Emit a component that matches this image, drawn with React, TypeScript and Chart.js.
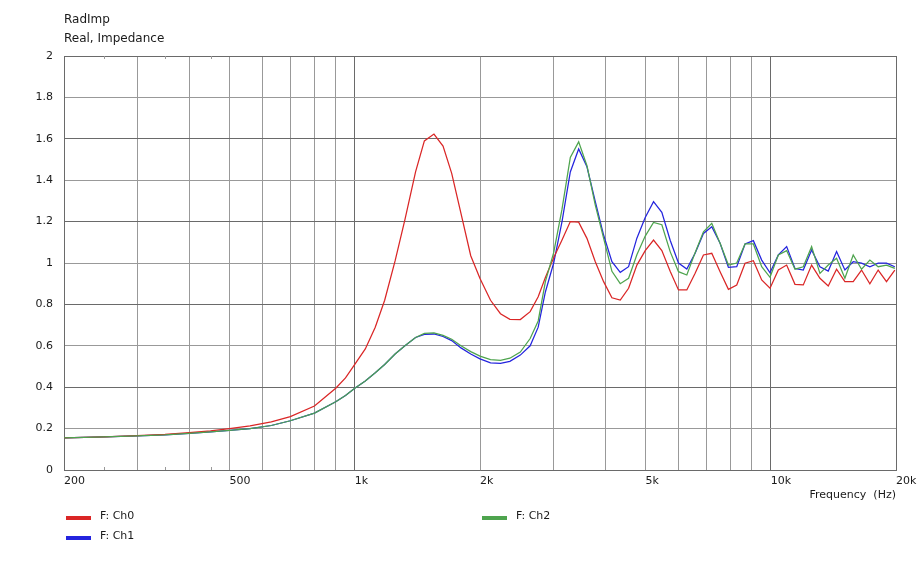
import React, { useEffect, useRef } from "react";
import { Chart, registerables } from "chart.js";

Chart.register(...registerables);

// ---------- data ----------
const FREQS = [
  200, 250, 300, 350, 400, 450, 500, 560, 630, 700,
  800, 900, 950, 1000, 1060, 1120, 1180, 1250, 1320, 1400,
  1470, 1550, 1630, 1710, 1800, 1900, 2000, 2120, 2240, 2360,
  2500, 2640, 2760,
  2872, 3007, 3149, 3297, 3453, 3615, 3786, 3964, 4151, 4347,
  4552, 4766, 4991, 5226, 5472, 5730, 6000, 6283, 6579, 6889,
  7214, 7554, 7910, 8283, 8673, 9082, 9510, 9958, 10427, 10919,
  11433, 11972, 12536, 13128, 13746, 14394, 15072, 15783, 16527, 17305,
  18121, 18975, 19869,
];

const CH0 = [
  0.155, 0.16, 0.166, 0.172, 0.18, 0.189, 0.2, 0.213, 0.232, 0.258,
  0.309, 0.395, 0.445, 0.51, 0.585, 0.69, 0.82, 1.01, 1.21, 1.44,
  1.59, 1.623, 1.565, 1.433, 1.24, 1.035, 0.925, 0.82, 0.755, 0.728,
  0.727, 0.765, 0.837,
  0.93, 1.025, 1.111, 1.2, 1.197, 1.119, 1.006, 0.91, 0.832, 0.821,
  0.878, 0.99, 1.06, 1.111, 1.06, 0.96, 0.87, 0.87, 0.95, 1.039,
  1.047, 0.958, 0.873, 0.894, 0.999, 1.011, 0.918, 0.878, 0.966, 0.99,
  0.897, 0.894, 0.99, 0.926, 0.889, 0.97, 0.91, 0.91, 0.966, 0.899,
  0.966, 0.91, 0.966,
];

const CH1 = [
  0.155, 0.16, 0.165, 0.17, 0.177, 0.184, 0.192, 0.2, 0.215, 0.238,
  0.275, 0.33, 0.36, 0.395, 0.43, 0.47, 0.51, 0.56, 0.6, 0.64,
  0.655, 0.657, 0.645, 0.625, 0.59, 0.56, 0.537, 0.518, 0.515, 0.525,
  0.555, 0.6, 0.69,
  0.86, 1.0, 1.2, 1.44, 1.551, 1.465, 1.296, 1.135, 1.006, 0.955,
  0.982, 1.12, 1.22, 1.296, 1.245, 1.11, 1.0, 0.971, 1.047, 1.143,
  1.175, 1.095, 0.979, 0.982, 1.092, 1.108, 1.014, 0.953, 1.039, 1.079,
  0.974, 0.966, 1.063, 0.982, 0.961, 1.055, 0.966, 1.006, 0.999, 0.982,
  0.999, 0.999, 0.982,
];

const CH2 = [
  0.155, 0.16, 0.165, 0.17, 0.177, 0.184, 0.192, 0.2, 0.215, 0.238,
  0.275, 0.33, 0.36, 0.395, 0.43, 0.47, 0.51, 0.56, 0.6, 0.64,
  0.66, 0.662, 0.65, 0.632, 0.6, 0.572, 0.55, 0.533, 0.53, 0.54,
  0.57, 0.635, 0.72,
  0.91, 1.05, 1.26, 1.51, 1.585, 1.47, 1.28, 1.12, 0.96, 0.9,
  0.926, 1.04, 1.13, 1.196, 1.185, 1.055, 0.958, 0.942, 1.05, 1.151,
  1.192, 1.095, 0.99, 1.0, 1.092, 1.092, 0.982, 0.931, 1.039, 1.06,
  0.97, 0.982, 1.079, 0.95, 0.99, 1.023, 0.926, 1.039, 0.97, 1.014,
  0.982, 0.99, 0.974,
];

const SERIES_NAMES = ["F: Ch0", "F: Ch1", "F: Ch2"];

const X_TICKS = [
  200, 300, 400, 500, 600, 700, 800, 900, 1000,
  2000, 3000, 4000, 5000, 6000, 7000, 8000, 9000, 10000, 20000,
];
const X_LABELS: Record<number, string> = {
  200: "200", 500: "500", 1000: "1k", 2000: "2k", 5000: "5k", 10000: "10k", 20000: "20k",
};
const X_MINOR = [250, 350, 450];
const Y_TICKS = [0, 0.2, 0.4, 0.6, 0.8, 1, 1.2, 1.4, 1.6, 1.8, 2];

// ---------- styles ----------
const RED = "rgb(218,38,38)";
const BLUE = "rgb(36,36,222)";
const GREEN = "rgb(78,164,78)";
const GRID_LIGHT = "#999999";
const GRID_DARK = "#6a6a6a";
const FONT = "'DejaVu Sans', Verdana, sans-serif";
const TEXT = "#1a1a1a";
const LINE_W = 1.25;

const minorTickPlugin = {
  id: "minorTicks",
  afterDraw(chart: any) {
    const { ctx, chartArea, scales } = chart;
    ctx.save();
    ctx.strokeStyle = GRID_LIGHT;
    ctx.lineWidth = 1;
    X_MINOR.forEach((v) => {
      const x = Math.round(scales.x.getPixelForValue(v)) + 0.5;
      ctx.beginPath();
      ctx.moveTo(x, chartArea.top);
      ctx.lineTo(x, chartArea.top + 3);
      ctx.moveTo(x, chartArea.bottom);
      ctx.lineTo(x, chartArea.bottom - 3);
      ctx.stroke();
    });
    ctx.restore();
  },
};

function ChartView() {
  const ref = useRef<HTMLCanvasElement | null>(null);

  useEffect(() => {
    if (!ref.current) return;
    const mk = (vals: number[]) => FREQS.map((f, i) => ({ x: f, y: vals[i] }));
    const chart = new Chart(ref.current, {
      type: "line",
      data: {
        datasets: [
          { label: SERIES_NAMES[0], data: mk(CH0), borderColor: RED, borderWidth: LINE_W, pointRadius: 0, tension: 0, fill: false, order: 1 },
          { label: SERIES_NAMES[1], data: mk(CH1), borderColor: BLUE, borderWidth: LINE_W, pointRadius: 0, tension: 0, fill: false, order: 2 },
          { label: SERIES_NAMES[2], data: mk(CH2), borderColor: GREEN, borderWidth: LINE_W, pointRadius: 0, tension: 0, fill: false, order: 0 },
        ],
      },
      options: {
        animation: false,
        responsive: false,
        devicePixelRatio: 1,
        layout: { padding: { top: 56, right: 23, left: 0, bottom: 67 } },
        plugins: { legend: { display: false }, tooltip: { enabled: false }, title: { display: false } },
        scales: {
          x: {
            type: "logarithmic",
            min: 200,
            max: 20000,
            afterBuildTicks: (s: any) => {
              s.ticks = X_TICKS.map((v) => ({ value: v }));
            },
            afterFit: (s: any) => {
              s.height = 30;
              s.paddingLeft = 0;
              s.paddingRight = 0;
            },
            ticks: {
              autoSkip: false,
              maxRotation: 0,
              minRotation: 0,
              align: "start",
              padding: 5,
              color: TEXT,
              font: { family: FONT, size: 11 },
              callback: (v: any) => X_LABELS[Number(v)] ?? "",
            },
            grid: {
              drawTicks: false,
              lineWidth: 1,
              color: (c: any) => {
                const v = c.tick ? c.tick.value : 0;
                return v === 1000 || v === 10000 || v === 200 || v === 20000 ? GRID_DARK : GRID_LIGHT;
              },
            },
            border: { display: true, color: GRID_DARK, width: 1 },
          },
          y: {
            type: "linear",
            min: 0,
            max: 2,
            afterBuildTicks: (s: any) => {
              s.ticks = Y_TICKS.map((v) => ({ value: v }));
            },
            afterFit: (s: any) => {
              s.width = 64;
              s.paddingTop = 0;
              s.paddingBottom = 0;
            },
            ticks: {
              padding: 11,
              color: TEXT,
              font: { family: FONT, size: 11 },
              callback: (v: any) => String(Number(Number(v).toFixed(1))),
            },
            grid: {
              drawTicks: false,
              lineWidth: 1,
              color: (c: any) => {
                const v = c.tick ? c.tick.value : 0;
                return Math.round(v * 10) % 4 === 0 ? GRID_DARK : GRID_LIGHT;
              },
            },
            border: { display: true, color: GRID_DARK, width: 1 },
          },
        },
      },
      plugins: [minorTickPlugin],
    } as any);
    return () => chart.destroy();
  }, []);

  return (
    <canvas
      ref={ref}
      width={919}
      height={567}
      style={{ position: "absolute", left: 0, top: 0, width: 919, height: 567 }}
    />
  );
}

const txt: React.CSSProperties = {
  position: "absolute",
  fontFamily: FONT,
  fontSize: 11,
  color: TEXT,
  whiteSpace: "pre",
  lineHeight: "13px",
};

export default function App() {
  const legend = [
    { name: SERIES_NAMES[0], color: RED, left: 66, top: 516 },
    { name: SERIES_NAMES[1], color: BLUE, left: 66, top: 536 },
    { name: SERIES_NAMES[2], color: GREEN, left: 482, top: 516 },
  ];
  return (
    <div style={{ position: "absolute", left: 0, top: 0, width: 919, height: 567, background: "#ffffff", overflow: "hidden" }}>
      <ChartView />
      <div style={{ ...txt, left: 64, top: 12, fontSize: 12, lineHeight: "15px" }}>RadImp</div>
      <div style={{ ...txt, left: 64, top: 31, fontSize: 12, lineHeight: "15px" }}>Real, Impedance</div>
      <div style={{ ...txt, right: 919 - 896, top: 488 }}>Frequency  (Hz)</div>
      {legend.map((l) => (
        <React.Fragment key={l.name}>
          <div style={{ position: "absolute", left: l.left, top: l.top, width: 25, height: 4, background: l.color }} />
          <div style={{ ...txt, left: l.left + 34, top: l.top - 7 }}>{l.name}</div>
        </React.Fragment>
      ))}
    </div>
  );
}
